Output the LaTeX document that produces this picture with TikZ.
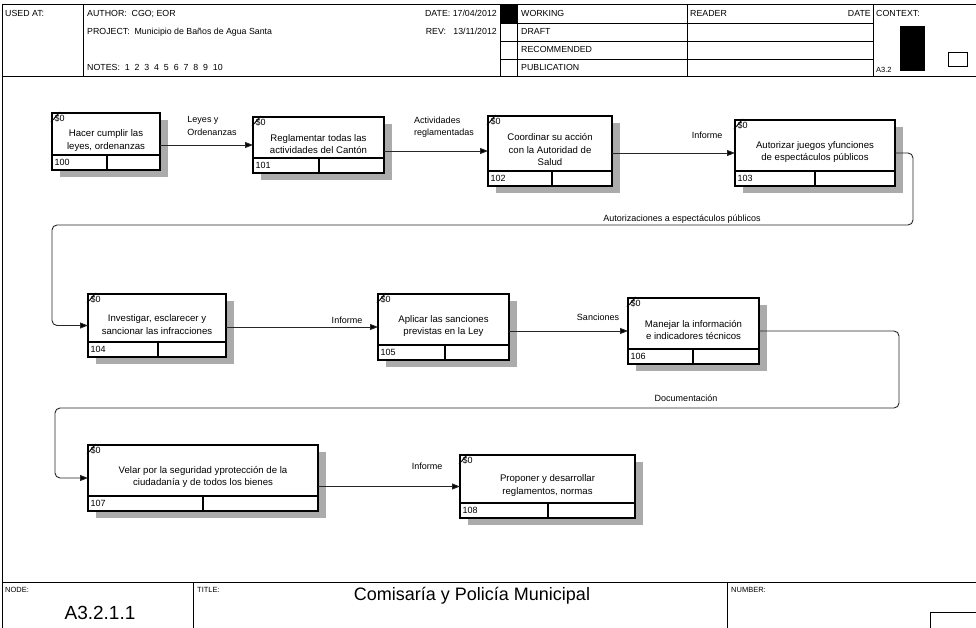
\documentclass[tikz,border=0pt]{standalone}
\usepackage{fontspec}
\setmainfont{Liberation Sans}
\usetikzlibrary{arrows.meta,shadows}

\tikzset{
  frameline/.style={line width=1pt,black},
  thinline/.style={line width=0.7pt,black},
  box/.style={draw,line width=1.3pt,fill=white,inner sep=0pt,outer sep=0pt,
    drop shadow={shadow xshift=8pt,shadow yshift=-7pt,fill=black!33,opacity=1}},
  boxline/.style={line width=1.1pt},
  tick/.style={line width=0.9pt},
  acttext/.style={align=center,inner sep=0pt,font=\fontsize{9.6}{12.5}\selectfont},
  numtext/.style={anchor=west,inner sep=0pt,font=\fontsize{9}{10}\selectfont},
  costtext/.style={anchor=north west,inner sep=0pt,font=\fontsize{9}{10}\selectfont},
  lbl/.style={inner sep=0pt,font=\fontsize{9}{12.5}\selectfont},
  hdr/.style={anchor=base west,inner sep=0pt,font=\fontsize{8.8}{10}\selectfont},
  hdrr/.style={anchor=base east,inner sep=0pt,font=\fontsize{8.8}{10}\selectfont},
  foot/.style={anchor=base west,inner sep=0pt,font=\fontsize{7.5}{9}\selectfont},
  flow/.style={draw,line width=0.9pt,black!85,rounded corners=5pt,
    -{Triangle[length=8pt,width=6pt,fill=black]}},
}

% activity box: name, left, top, width, height, divider offset, number, text
\newcommand\actbox[8]{%
  \node[box,minimum width=#4,minimum height=#5,anchor=north west] (#1) at (#2,#3) {};
  \draw[boxline] ([yshift=15pt]#1.south west) -- ([yshift=15pt]#1.south east);
  \draw[boxline] ([xshift=#6]#1.south west) -- ([xshift=#6,yshift=15pt]#1.south west);
  \node[acttext] (#1-t) at ([yshift=1pt]#1.center) {#8};
  \node[numtext] (#1-n) at ([xshift=2.5pt,yshift=7.5pt]#1.south west) {#7};
  \node[costtext] (#1-c) at ([xshift=2.5pt,yshift=-2pt]#1.north west) {\$0};
  \draw[tick] ([xshift=-1pt,yshift=-9pt]#1.north west) -- ([xshift=8pt,yshift=1pt]#1.north west);
}

\begin{document}
\begin{tikzpicture}[x=1pt,y=-1pt]
\useasboundingbox (0,0) rectangle (976,628);

% ---- header block ----
\draw[frameline] (2,628) -- (2,5) -- (980,5);
\draw[frameline] (2,77) -- (980,77);
\draw[thinline] (83,5) -- (83,77);
\draw[thinline] (500,5) -- (500,77);
\draw[thinline] (517,5) -- (517,77);
\draw[thinline] (687,5) -- (687,77);
\draw[thinline] (873,5) -- (873,77);
\foreach \yy in {23,41,59} \draw[thinline] (500,\yy) -- (873,\yy);
\fill (500,5) rectangle (517,23);

\node[hdr] (usedat) at (5,17) {USED AT:};
\node[hdr] (author) at (87,17) {AUTHOR: \ CGO; EOR};
\node[hdrr] (date) at (497,17) {DATE: 17/04/2012};
\node[hdr] (project) at (87,35) {PROJECT: \ Municipio de Baños de Agua Santa};
\node[hdrr] (rev) at (497,35) {REV: \ \ 13/11/2012};
\node[hdr] (notes) at (87,71) {NOTES: \ 1 \ 2 \ 3 \ 4 \ 5 \ 6 \ 7 \ 8 \ 9 \ 10};
\node[hdr] (working) at (521,17) {WORKING};
\node[hdr] (draft) at (521,35) {DRAFT};
\node[hdr] (recom) at (521,53) {RECOMMENDED};
\node[hdr] (publ) at (521,71) {PUBLICATION};
\node[hdr] (reader) at (690,17) {READER};
\node[hdrr] (rdate) at (871,17) {DATE};
\node[hdr] (context) at (876,17) {CONTEXT:};
\fill (900,26) rectangle (925,71);
\draw[thinline] (948,52) rectangle (967,66);
\node[hdr,font=\fontsize{7.5}{9}\selectfont] (ctxnode) at (876,73) {A3.2};

% ---- footer block ----
\draw[frameline] (2,582) -- (980,582);
\draw[thinline] (193,582) -- (193,630);
\draw[thinline] (727,582) -- (727,630);
\draw[thinline] (930,612) rectangle (982,632);
\node[foot] (nodelbl) at (5,592) {NODE:};
\node[foot] (titlelbl) at (197,592) {TITLE:};
\node[foot] (numlbl) at (731,592) {NUMBER:};
\node[inner sep=0pt,font=\fontsize{18}{20}\selectfont] (title) at (472,596) {Comisaría y Policía Municipal};
\node[inner sep=0pt,font=\fontsize{19}{21}\selectfont] (nodenum) at (100,613) {A3.2.1.1};

% ---- activities ----
\actbox{b100}{52}{113}{108}{57}{55pt}{100}{Hacer cumplir las\\leyes, ordenanzas}
\actbox{b101}{253}{117}{131}{56}{66pt}{101}{Reglamentar todas las\\actividades del Cantón}
\actbox{b102}{488}{116}{124}{70}{64pt}{102}{Coordinar su acción\\con la Autoridad de\\Salud}
\actbox{b103}{735}{120}{160}{66}{80pt}{103}{Autorizar juegos yfunciones\\de espectáculos públicos}
\actbox{b104}{88}{294}{138}{63}{70pt}{104}{Investigar, esclarecer y\\sancionar las infracciones}
\actbox{b105}{378}{294}{131}{66}{67pt}{105}{Aplicar las sanciones\\previstas en la Ley}
\actbox{b106}{628}{298}{131}{66}{65pt}{106}{Manejar la información\\e indicadores técnicos}
\actbox{b107}{88}{445}{230}{66}{115pt}{107}{Velar por la seguridad yprotección de la\\ciudadanía y de todos los bienes}
\actbox{b108}{460}{455}{175}{63}{88pt}{108}{Proponer y desarrollar\\reglamentos, normas}

% ---- connectors ----
\draw[flow] (b100.east |- b101.west) -- (b101.west);
\draw[flow] (b101.east |- b102.west) -- (b102.west);
\draw[flow] (b102.east |- b103.west) -- (b103.west);
\coordinate (r1) at (913,225);
\coordinate (l1) at (52,225);
\draw[flow] (b103.east) -| (r1) -- (l1) |- (b104.west);
\draw[flow] (b104.east |- b105.west) -- (b105.west);
\draw[flow] (b105.east |- b106.west) -- (b106.west);
\coordinate (r2) at (899,408);
\coordinate (l2) at (55,408);
\draw[flow] (b106.east) -| (r2) -- (l2) |- (b107.west);
\draw[flow] (b107.east |- b108.west) -- (b108.west);

% ---- connector labels ----
\node[lbl,align=left] (f1) at (212,126) {Leyes y\\Ordenanzas};
\node[lbl,align=left] (f2) at (444,127) {Actividades\\reglamentadas};
\node[lbl] (f3) at (707,135) {Informe};
\node[lbl] (f4) at (682,219) {Autorizaciones a espectáculos públicos};
\node[lbl] (f5) at (347,320) {Informe};
\node[lbl] (f6) at (598,317) {Sanciones};
\node[lbl] (f7) at (686,398) {Documentación};
\node[lbl] (f8) at (427,466) {Informe};
\end{tikzpicture}
\end{document}
